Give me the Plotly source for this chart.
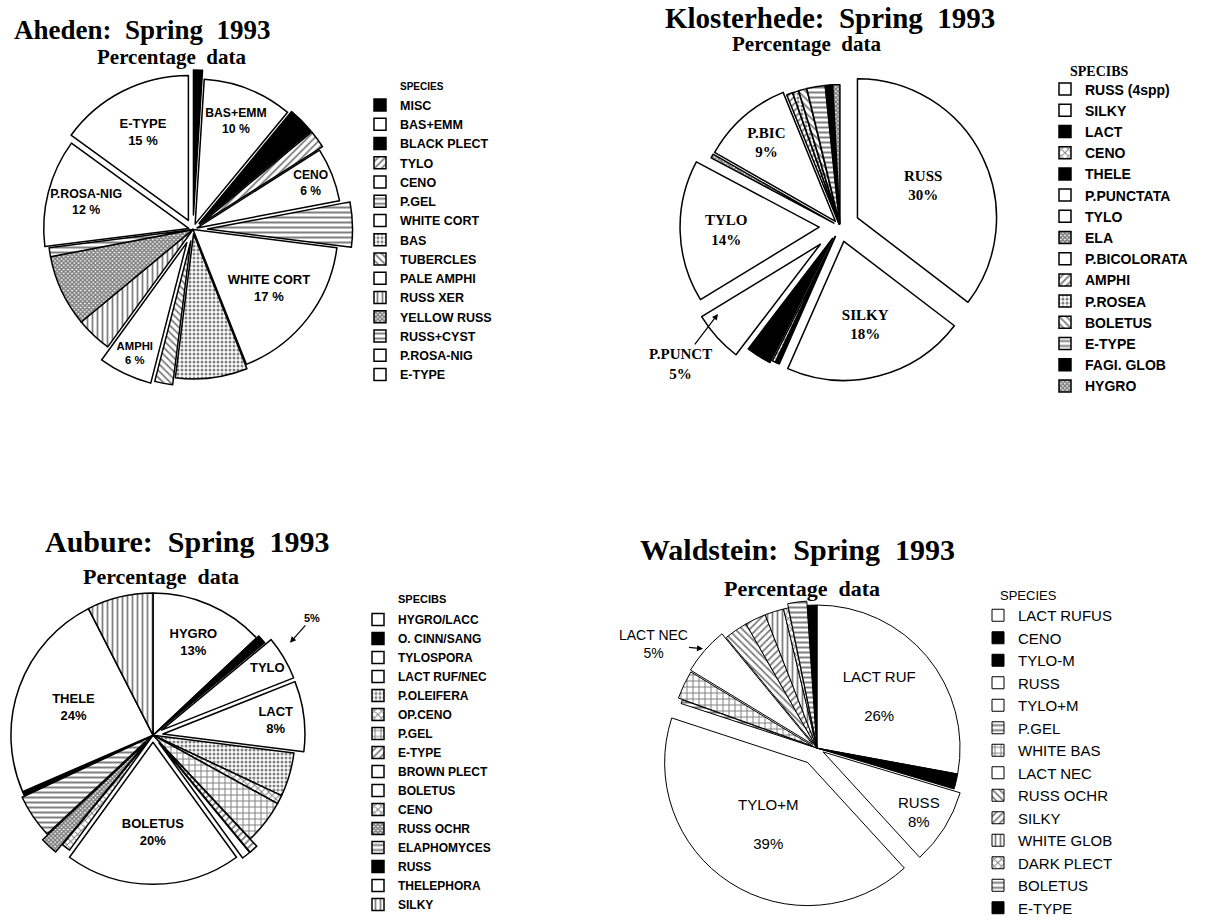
import plotly.graph_objects as go

W, H = 1209, 924

# ---------------- data ----------------
# Aheden
aheden_species = ["MISC", "BAS+EMM", "BLACK PLECT", "TYLO", "CENO", "P.GEL", "WHITE CORT",
                  "BAS", "TUBERCLES", "PALE AMPHI", "RUSS XER", "YELLOW RUSS", "RUSS+CYST",
                  "P.ROSA-NIG", "E-TYPE"]
aheden_pct = [1, 10, 3, 2, 6, 5, 17, 8, 2, 6, 4, 8, 1, 12, 15]
aheden_tags = ["", "BAS+EMM", "", "", "CENO", "", "WHITE CORT", "", "", "AMPHI", "", "", "",
               "P.ROSA-NIG", "E-TYPE"]

# Klosterhede
kloster_species = ["RUSS (4spp)", "SILKY", "LACT", "CENO", "THELE", "P.PUNCTATA", "TYLO", "ELA",
                   "P.BICOLORATA", "AMPHI", "P.ROSEA", "BOLETUS", "E-TYPE", "FAGI. GLOB", "HYGRO"]
kloster_pct = [30, 18, 0.4, 0.3, 2.5, 5, 14, 0.4, 9, 0.6, 0.6, 0.8, 1.8, 0.7, 0.7]
kloster_tags = ["RUSS", "SILKY", "", "", "", "", "TYLO", "", "P.BIC", "", "", "", "", "", ""]

# Aubure
aubure_species = ["HYGRO/LACC", "O. CINN/SANG", "TYLOSPORA", "LACT RUF/NEC", "P.OLEIFERA",
                  "OP.CENO", "P.GEL", "E-TYPE", "BROWN PLECT", "BOLETUS", "CENO", "RUSS OCHR",
                  "ELAPHOMYCES", "RUSS", "THELEPHORA", "SILKY"]
aubure_pct = [13, 1, 5, 8, 5, 1, 5, 1, 1, 20, 1, 2, 5, 0.5, 24, 7.5]
aubure_tags = ["HYGRO", "", "TYLO", "LACT", "", "", "", "", "", "BOLETUS", "", "", "", "",
               "THELE", ""]

# Waldstein
wald_species = ["LACT RUFUS", "CENO", "TYLO-M", "RUSS", "TYLO+M", "P.GEL", "WHITE BAS",
                "LACT NEC", "RUSS OCHR", "SILKY", "WHITE GLOB", "DARK PLECT", "BOLETUS", "E-TYPE"]
wald_pct = [26, 1.2, 0.4, 8, 39, 0.4, 3, 5, 2.5, 2.2, 2, 0.5, 2, 1]
wald_tags = ["LACT RUF", "", "", "RUSS", "TYLO+M", "", "", "", "", "", "", "", "", ""]

# ---------------- styling ----------------
# fill code -> (base colour, pattern shape, pattern size, solidity)
FILLS = {
    "w": ("white", "", 8, 0.3),
    "k": ("black", "", 8, 0.3),
    "/": ("white", "/", 5, 0.35),
    "\\": ("white", "\\", 5, 0.35),
    "|": ("white", "|", 5, 0.35),
    "-": ("white", "-", 5, 0.4),
    "x": ("white", "x", 5, 0.35),
    "X": ("white", "x", 3, 0.75),
    "+": ("white", "+", 6, 0.3),
    ".": ("white", ".", 4, 0.45),
}

aheden_fill = ["k", "w", "k", "/", "w", "-", "w", ".", "\\", "w", "|", "X", "-", "w", "w"]
aheden_pull = [0.1, 0.04, 0.06, 0.06, 0.03, 0.1, 0, 0.03, 0.08, 0.1, 0, 0, 0, 0.03, 0.07]

kloster_fill = ["w", "w", "k", "x", "k", "w", "w", "X", "w", "/", ".", "\\", "-", "k", "X"]
kloster_pull = [0.14, 0.11, 0.08, 0.08, 0.1, 0.19, 0.15, 0.05, 0.05,
                0.02, 0.02, 0.02, 0.02, 0.02, 0.02]

aubure_fill = ["w", "k", "w", "w", ".", "x", "+", "/", "w", "w", "x", "X", "-", "k", "w", "|"]
aubure_pull = [0, 0.02, 0.07, 0.07, 0, 0, 0, 0.07, 0.07, 0.05, 0, 0.07, 0.02, 0, 0, 0]

wald_fill = ["w", "k", "k", "w", "w", "-", "+", "w", "\\", "/", "|", "x", "-", "k"]
wald_pull = [0, 0, 0, 0.05, 0.12, 0, 0.03, 0.04, 0, 0, 0, 0, 0.03, 0]

SERIF = "Liberation Serif"
SANS = "Liberation Sans"


def domain(cx, cy, r, pulls):
    half = r * (1 + max(pulls))
    x0 = max(0.0, (cx - half) / W)
    x1 = min(1.0, (cx + half) / W)
    y0 = max(0.0, 1 - (cy + half) / H)
    y1 = min(1.0, 1 - (cy - half) / H)
    return dict(x=[x0, x1], y=[y0, y1])


def slice_texts(tags, vals, sep="<br>", gap=" %", skip_pct=()):
    out = []
    for t, v in zip(tags, vals):
        if not t:
            out.append("")
        elif t in skip_pct:
            out.append(t)
        else:
            out.append(f"{t}{sep}{v:g}{gap}")
    return out


def make_pie(name, species, vals, fills, pulls, texts, dom, legend, font, lw=1.5):
    spec = [FILLS[f] for f in fills]
    return go.Pie(
        name=name, legendgroup=name,
        labels=species, values=vals, sort=False, direction="clockwise", rotation=0,
        pull=pulls, domain=dom, legend=legend,
        marker=dict(
            colors=[s[0] for s in spec],
            line=dict(color="black", width=lw),
            pattern=dict(shape=[s[1] for s in spec], size=[s[2] for s in spec],
                         solidity=[s[3] for s in spec], fgcolor="black",
                         fillmode="overlay"),
        ),
        text=texts, textinfo="text", textposition="inside",
        insidetextorientation="horizontal", textfont=font,
        hoverinfo="label+value",
    )


fig = go.Figure()

fig.add_trace(make_pie(
    "Aheden", aheden_species, aheden_pct, aheden_fill, aheden_pull,
    slice_texts(aheden_tags, aheden_pct),
    domain(193, 231, 146, aheden_pull), "legend",
    dict(family=SANS, size=13, color="black", weight="bold")))

fig.add_trace(make_pie(
    "Klosterhede", kloster_species, kloster_pct, kloster_fill, kloster_pull,
    slice_texts(kloster_tags, kloster_pct, gap="%"),
    domain(840, 228, 140, kloster_pull), "legend2",
    dict(family=SERIF, size=15, color="black", weight="bold")))

fig.add_trace(make_pie(
    "Aubure", aubure_species, aubure_pct, aubure_fill, aubure_pull,
    slice_texts(aubure_tags, aubure_pct, gap="%", skip_pct=("TYLO",)),
    domain(153, 740, 143, aubure_pull), "legend3",
    dict(family=SANS, size=13, color="black", weight="bold")))

wald_text = slice_texts(wald_tags, wald_pct, gap="%")
wald_text = [t.replace("<br>", "<br><br>") if t.startswith(("LACT", "TYLO")) else t
             for t in wald_text]
fig.add_trace(make_pie(
    "Waldstein", wald_species, wald_pct, wald_fill, wald_pull, wald_text,
    domain(817, 753, 144, wald_pull), "legend4",
    dict(family=SANS, size=15, color="black"), lw=1))


def legend_box(x_px, top_px, size, weight="bold"):
    return dict(
        x=x_px / W, y=1 - top_px / H, xanchor="left", yanchor="top",
        bgcolor="rgba(0,0,0,0)", borderwidth=0, itemwidth=30, itemclick=False,
        font=dict(family=SANS, size=size, color="black", weight=weight),
    )


annotations = []


def label(text, x, y, size, family=SERIF, weight="bold", xanchor="center"):
    annotations.append(dict(
        text=text, x=x / W, y=1 - y / H, xref="paper", yref="paper",
        xanchor=xanchor, yanchor="middle", showarrow=False,
        font=dict(family=family, size=size, color="black", weight=weight)))


def callout(text, hx, hy, ax, ay, size, family=SANS, weight="bold"):
    annotations.append(dict(
        text=text, x=hx / W, y=1 - hy / H, xref="paper", yref="paper",
        ax=ax, ay=ay, showarrow=True, arrowhead=2, arrowsize=1, arrowwidth=1.2,
        arrowcolor="black",
        font=dict(family=family, size=size, color="black", weight=weight)))


NB = "\u00a0"
label(f"Aheden:{NB}{NB}Spring{NB}{NB}1993", 142, 30, 27)
label(f"Percentage{NB}{NB}data", 171, 57, 21)
label(f"Klosterhede:{NB}{NB}Spring{NB}{NB}1993", 830, 18, 29)
label(f"Percentage{NB}{NB}data", 806, 44, 21)
label(f"Aubure:{NB}{NB}Spring{NB}{NB}1993", 187, 545, 30)
label(f"Percentage{NB}{NB}data", 161, 580, 22)
label(f"Waldstein:{NB}{NB}Spring{NB}{NB}1993", 797, 553, 30)
label(f"Percentage{NB}{NB}data", 802, 592, 22)

label("SPECIES", 398, 87, 10, family=SANS, xanchor="left")
label("SPECIBS", 1068, 72, 14, family=SERIF, xanchor="left")
label("SPECIBS", 396, 603, 11, family=SANS, xanchor="left")
label("SPECIES", 998, 599, 13, family=SANS, weight="normal", xanchor="left")

i_punct = kloster_species.index("P.PUNCTATA")
callout(f"P.PUNCT<br>{kloster_pct[i_punct]:g}%", 718, 316, -38, 50, 15, family=SERIF)
i_tylo = aubure_species.index("TYLOSPORA")
callout(f"{aubure_pct[i_tylo]:g}%", 290, 647, 22, -25, 11)
i_nec = wald_species.index("LACT NEC")
callout(f"LACT NEC<br>{wald_pct[i_nec]:g}%", 703, 653, -50, -5, 14, weight="normal")

fig.update_layout(
    width=W, height=H, autosize=False,
    margin=dict(l=0, r=0, t=0, b=0),
    paper_bgcolor="white", plot_bgcolor="white",
    legend=legend_box(360, 91, 12.5),
    legend2=legend_box(1045, 74, 14),
    legend3=legend_box(358, 609, 12),
    legend4=legend_box(978, 603, 15, weight="normal"),
    annotations=annotations,
)

fig.write_html("out.html")
